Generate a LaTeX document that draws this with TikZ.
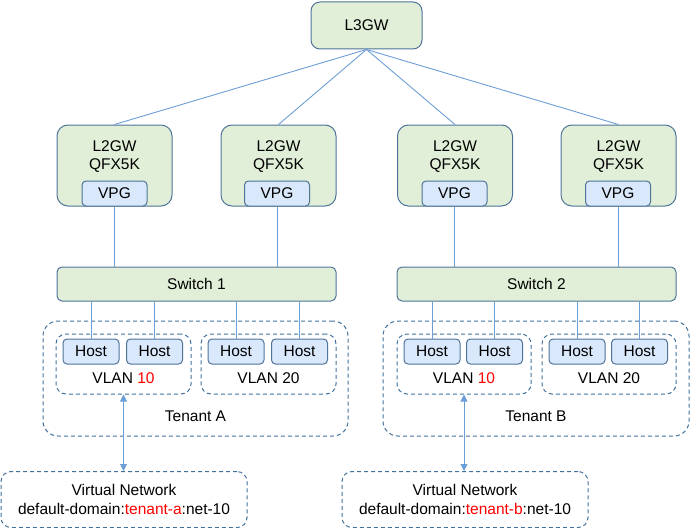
\documentclass[tikz,border=0pt]{standalone}
\usepackage{fontspec}
\setmainfont{Liberation Sans}
\usetikzlibrary{arrows.meta}
\definecolor{gwfill}{HTML}{E1EFD8}
\definecolor{vpgfill}{HTML}{DAE8FC}
\definecolor{boxline}{HTML}{4F7399}
\definecolor{wire}{HTML}{6C9FD6}
\definecolor{grpline}{HTML}{41719C}
\begin{document}
\begin{tikzpicture}[x=1pt,y=-1pt,
 every node/.style={font=\fontsize{15.5}{18.7}\selectfont, inner sep=0pt, align=center},
 gw/.style={draw=boxline, fill=gwfill, line width=1pt, rounded corners=11pt, minimum width=115pt, minimum height=81pt},
 sw/.style={draw=boxline, fill=gwfill, line width=1pt, rounded corners=5pt, minimum width=279pt, minimum height=34pt},
 vpg/.style={draw=boxline, fill=vpgfill, line width=1pt, rounded corners=4pt, minimum width=65pt, minimum height=25pt},
 host/.style={draw=boxline, fill=vpgfill, line width=1pt, rounded corners=4pt, minimum width=56pt, minimum height=25pt},
 grp/.style={draw=grpline, line width=1pt, dash pattern=on 4pt off 3pt, rounded corners=10pt},
 wire/.style={draw=wire, line width=0.9pt},
 tip/.style={{Triangle[length=7pt,width=7pt]}-{Triangle[length=7pt,width=7pt]}}]
 \useasboundingbox (0,0) rectangle (690,527);
 % top gateway
 \node[draw=boxline, fill=gwfill, line width=1pt, rounded corners=9pt, minimum width=111pt, minimum height=47pt] (l3gw) at (366.5,25.5) {L3GW};
 % L2 gateways with their VPG
 \foreach \n/\gx/\vx in {1/114.5/114.5, 2/278.5/277, 3/455/454.5, 4/618.5/618} {
  \node[gw] (gw\n) at (\gx,165.5) {};
  \node (gwt\n) at (\gx,156.5) {L2GW\\QFX5K};
  \node[vpg] (vpg\n) at (\vx,193.5) {VPG};
  \draw[wire] (l3gw.south) -- (gw\n.north);
 }
 % switches
 \node[sw] (sw1) at (196.5,284) {Switch 1};
 \node[sw] (sw2) at (536.5,284) {Switch 2};
 \foreach \n/\s in {1/1, 2/1, 3/2, 4/2}
  \draw[wire] (vpg\n.south) -- (vpg\n.south |- sw\s.north);
 % tenants
 \node[grp, minimum width=305pt, minimum height=115pt, rounded corners=15pt] (tena) at (195.5,378.5) {};
 \node[grp, minimum width=306pt, minimum height=115pt, rounded corners=15pt] (tenb) at (536,378.5) {};
 \node (tenat) at (195.5,416) {Tenant A};
 \node (tenbt) at (536,416) {Tenant B};
 % vlans
 \node[grp, minimum width=135pt, minimum height=60pt] (vla10) at (123.5,364) {};
 \node[grp, minimum width=135pt, minimum height=60pt] (vla20) at (268.5,364) {};
 \node[grp, minimum width=134pt, minimum height=60pt] (vlb10) at (464,364) {};
 \node[grp, minimum width=134pt, minimum height=60pt] (vlb20) at (609,364) {};
 \node (vla10t) at (123.5,378) {VLAN \textcolor{red}{10}};
 \node (vla20t) at (268.5,378) {VLAN 20};
 \node (vlb10t) at (464,378) {VLAN \textcolor{red}{10}};
 \node (vlb20t) at (609,378) {VLAN 20};
 % hosts
 \foreach \n/\hx/\s in {1/91/1, 2/154.5/1, 3/236/1, 4/299.5/1, 5/432/2, 6/494.5/2, 7/577/2, 8/639.5/2} {
  \node[host] (host\n) at (\hx,351.5) {Host};
  \draw[wire] (host\n.north |- sw\s.south) -- (host\n.north);
 }
 % virtual networks
 \node[grp, minimum width=246pt, minimum height=56pt] (vna) at (124,499.5) {};
 \node[grp, minimum width=246pt, minimum height=56pt] (vnb) at (465,499.5) {};
 \node (vnat) at (124,499.5) {Virtual Network\\default-domain:\textcolor{red}{tenant-a}:net-10};
 \node (vnbt) at (465,499.5) {Virtual Network\\default-domain:\textcolor{red}{tenant-b}:net-10};
 \draw[wire, tip] (vla10.south) -- (vla10.south |- vna.north);
 \draw[wire, tip] (vlb10.south) -- (vlb10.south |- vnb.north);
\end{tikzpicture}
\end{document}
